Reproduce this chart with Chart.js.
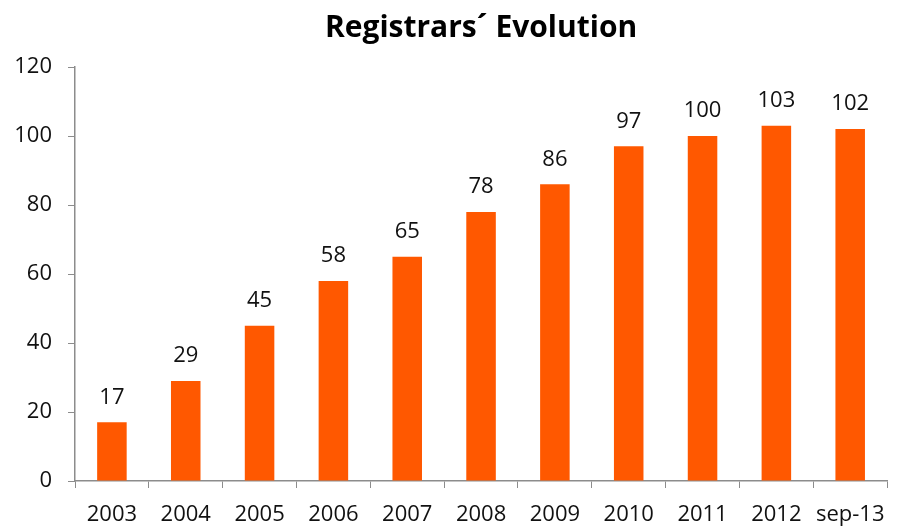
<!DOCTYPE html>
<html lang="en">
<head>
    <meta charset="UTF-8">
    <title>Registrars´ Evolution</title>
    <script src="https://cdn.jsdelivr.net/npm/chart.js"></script>
    <style>
        html, body { margin: 0; padding: 0; background: #fff; }
        #wrap { width: 899px; height: 529px; }
    </style>
</head>
<body>
    <div id="wrap"><canvas id="regChart"></canvas></div>

    <script>
        // Data
        const years = ['2003', '2004', '2005', '2006', '2007', '2008', '2009', '2010', '2011', '2012', 'sep-13'];
        const registrars = [17, 29, 45, 58, 65, 78, 86, 97, 100, 103, 102];
        const yTicks = [0, 20, 40, 60, 80, 100, 120];

        const barColor = '#FF5800';
        const axisColor = '#8c8c8c';
        const fontFamily = "'Open Sans', sans-serif";

        // Value labels above each bar
        const valueLabels = {
            id: 'valueLabels',
            afterDatasetsDraw(chart) {
                const ctx = chart.ctx;
                const meta = chart.getDatasetMeta(0);
                ctx.save();
                ctx.font = '22px ' + fontFamily;
                ctx.fillStyle = '#111';
                ctx.textAlign = 'center';
                ctx.textBaseline = 'bottom';
                meta.data.forEach((bar, i) => {
                    ctx.fillText(registrars[i], bar.x, bar.y - 14);
                });
                ctx.restore();
            }
        };

        const ctx = document.getElementById('regChart').getContext('2d');
        const regChart = new Chart(ctx, {
            type: 'bar',
            data: {
                labels: years,
                datasets: [{
                    data: registrars,
                    backgroundColor: barColor,
                    borderWidth: 0,
                    barPercentage: 0.8,
                    categoryPercentage: 0.5
                }]
            },
            options: {
                responsive: true,
                maintainAspectRatio: false,
                animation: false,
                layout: { padding: { left: 0, right: 0, top: 0, bottom: 0 } },
                plugins: {
                    legend: { display: false },
                    tooltip: { enabled: false },
                    title: {
                        display: true,
                        fullSize: false,   // center over the plot area
                        text: 'Registrars´ Evolution',
                        color: '#000',
                        font: { family: fontFamily, size: 30, weight: 'bold' },
                        padding: { top: 10, bottom: 21 }
                    }
                },
                scales: {
                    x: {
                        offset: true,
                        grid: {
                            offset: true,
                            drawOnChartArea: false,
                            drawTicks: true,
                            tickLength: 7,
                            color: axisColor
                        },
                        border: { color: axisColor, width: 1.5 },
                        ticks: {
                            color: '#111',
                            padding: 14,
                            maxRotation: 0,
                            autoSkip: false,
                            font: { family: fontFamily, size: 22 }
                        },
                        afterFit(scale) { scale.height = 48; }
                    },
                    y: {
                        min: 0,
                        max: 120,
                        afterBuildTicks(scale) {
                            scale.ticks = yTicks.map(v => ({ value: v }));
                        },
                        grid: {
                            drawOnChartArea: false,
                            drawTicks: true,
                            tickLength: 7,
                            color: axisColor
                        },
                        border: { color: axisColor, width: 1.5 },
                        ticks: {
                            color: '#111',
                            padding: 16,
                            font: { family: fontFamily, size: 22 }
                        },
                        afterFit(scale) { scale.width = 75; }
                    }
                }
            },
            plugins: [valueLabels]
        });
    </script>
</body>
</html>
